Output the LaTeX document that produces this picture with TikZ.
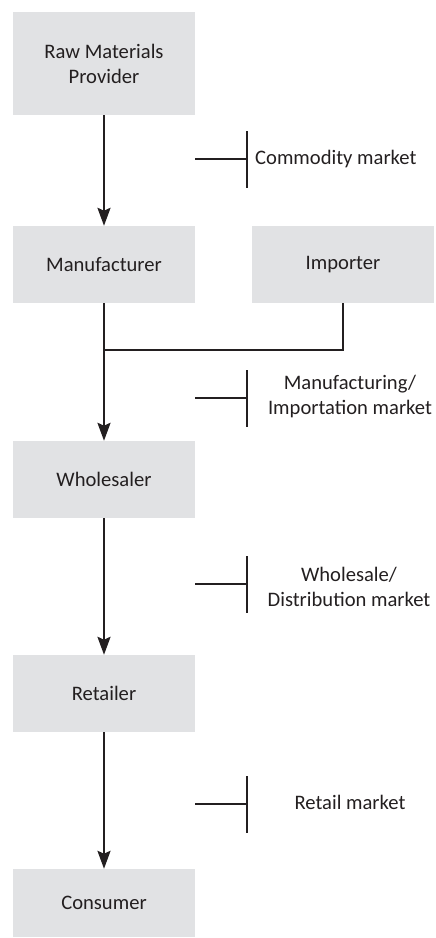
\documentclass[tikz,border=0pt]{standalone}
\usepackage{fontspec}
\setmainfont{Carlito}
\usetikzlibrary{arrows.meta}
\definecolor{boxgray}{HTML}{E1E2E4}
\definecolor{ink}{HTML}{231F20}
\begin{document}
\begin{tikzpicture}[x=1pt,y=-1pt,
  every node/.style={font=\fontsize{20.6}{25}\selectfont, text=ink},
  box/.style={fill=boxgray, draw=none, minimum width=182pt, inner sep=0pt, align=center},
  flow/.style={draw=ink, line width=2.4pt, -{Stealth[length=18pt,width=13pt,inset=3pt]}},
  link/.style={draw=ink, line width=2.4pt},
  marketline/.style={draw=ink, line width=2.6pt},
  mlabel/.style={align=center, inner sep=0pt}
]
\useasboundingbox (0,0) rectangle (436,938);
% boxes
\node[box, minimum height=103pt] (raw) at (104,63.5) {Raw Materials\\Provider};
\node[box, minimum height=77pt] (man) at (104,264.5) {Manufacturer};
\node[box, minimum height=77pt] (imp) at (343,264.5) {Importer};
\node[box, minimum height=77pt] (whs) at (104,479.5) {Wholesaler};
\node[box, minimum height=77pt] (ret) at (104,693.5) {Retailer};
\node[box, minimum height=68pt] (con) at (104,903) {Consumer};
% flows
\draw[flow] (raw.south) -- (man.north);
\draw[flow] (man.south) -- (whs.north);
\coordinate (join) at (104,350);
\draw[link] (imp.south) |- (join);
\draw[flow] (ret.south) -- (con.north);
\draw[flow] (whs.south) -- (ret.north);
% market markers
\foreach \n/\y in {1/159, 2/398, 3/584, 4/804}{
  \coordinate (m\n) at (195,\y);
  \coordinate (b\n) at (247,\y);
  \draw[marketline] (m\n) -- (b\n);
  \draw[marketline] ([yshift=-28.5pt]b\n) -- ([yshift=28.5pt]b\n);
}
\node[mlabel, anchor=west] (t1) at (255,159) {Commodity market};
\node[mlabel] (t2) at (350,397) {Manufacturing/\\Importation market};
\node[mlabel] (t3) at (349,587) {Wholesale/\\Distribution market};
\node[mlabel] (t4) at (350,802) {Retail market};
\end{tikzpicture}
\end{document}
